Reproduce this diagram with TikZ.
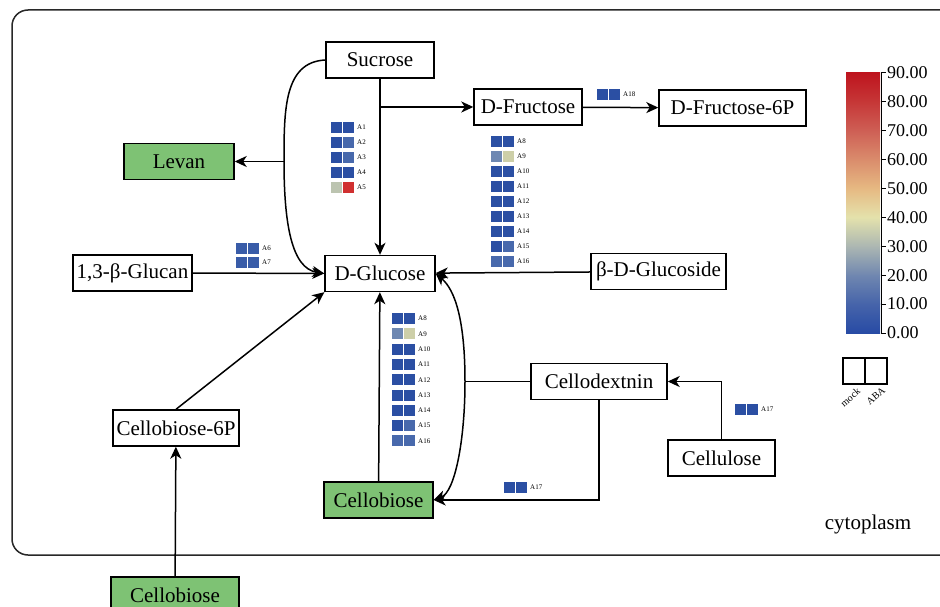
\documentclass[tikz,border=0pt]{standalone}
\usepackage{fontspec}
\setmainfont{Liberation Serif}
\usetikzlibrary{arrows.meta}

\definecolor{hmD}{RGB}{43,79,163}
\definecolor{hmM}{RGB}{72,105,172}
\definecolor{hmS}{RGB}{57,92,168}
\definecolor{hmL}{RGB}{110,136,178}
\definecolor{hmY}{RGB}{205,207,168}
\definecolor{hmG}{RGB}{188,196,176}
\definecolor{hmR}{RGB}{208,48,48}
\definecolor{leaf}{RGB}{126,194,116}
\definecolor{frame}{RGB}{40,40,40}

% one row of the heat map: x, y (top), mock colour, ABA colour, label
\newcommand{\hmrow}[5]{%
  \fill[#3] ({#1},{#2}) rectangle ++(11,11);
  \fill[#4] ({#1+12},{#2}) rectangle ++(11,11);
  \node[hmlab] (hm-#5-#1) at ({#1+26},{#2+5.5}) {#5};}

\begin{document}
\begin{tikzpicture}[x=1pt,y=-1pt,
  box/.style={draw,line width=1.4pt,minimum height=36pt,inner sep=2pt,font=\fontsize{21}{24}\selectfont},
  green/.style={box,fill=leaf},
  arr/.style={line width=1.5pt,-{Stealth[length=12pt,width=11pt,inset=3.5pt]}},
  line/.style={line width=1.5pt},
  hmlab/.style={anchor=west,inner sep=0pt,font=\fontsize{7}{8}\selectfont}]
\clip (0,0) rectangle (940,607);
\draw[frame,line width=1.5pt,rounded corners=16pt] (12,10) rectangle (980,555);

% compounds
\node[box,minimum width=108pt] (sucrose) at (380,60) {Sucrose};
\node[box,minimum width=108pt] (dfructose) at (528,107) {D-Fructose};
\node[box,minimum width=147pt] (dfructose6p) at (732.5,108) {D-Fructose-6P};
\node[green,minimum width=110pt] (levan) at (179,161.5) {Levan};
\node[box,minimum width=110pt] (dglucose) at (380,273.5) {D-Glucose};
\node[box,minimum width=119pt] (glucan) at (132.5,273) {1,3-β-Glucan};
\node[box,minimum width=135pt] (glucoside) at (658.5,271.5) {β-D-Glucoside};
\node[box,minimum width=136pt] (cellodex) at (599,381.5) {Cellodextnin};
\node[box,minimum width=126pt] (cb6p) at (176,428) {Cellobiose-6P};
\node[box,minimum width=107pt] (cellulose) at (721.5,458) {Cellulose};
\node[green,minimum width=109pt] (cellobiose) at (378.5,500) {Cellobiose};
\node[green,minimum width=128pt] (cellobioseout) at (175,595) {Cellobiose};
\node[font=\fontsize{21}{24}\selectfont] (cyto) at (868,524) {cytoplasm};

\coordinate (bend) at (284,161.5);
\coordinate (cd) at (465,381.5);

% reactions
\draw[arr] (sucrose) -- (dglucose);
\draw[arr] (sucrose.south |- dfructose.west) -- (dfructose.west);
\draw[arr] (dfructose) -- (dfructose6p);
\draw[arr] (sucrose.west) .. controls (284,62) and (284,110) .. (bend)
  .. controls (284,225) and (292,268) .. (dglucose.west);
\draw[arr] (bend) -- (levan);
\draw[arr] (glucan) -- (dglucose);
\draw[arr] (glucoside) -- (dglucose);
\draw[arr] (cb6p.north) -- (dglucose.south west);
\draw[arr] (cellobioseout) -- (cb6p);
\draw[arr] (cellobiose) -- (dglucose);
\draw[line] (cellodex.west) -- (cd);
\draw[arr] (cd) .. controls (465,320) and (455,290) .. (dglucose.east);
\draw[arr] (cd) .. controls (465,440) and (455,492) .. (cellobiose.east);
\draw[arr] (cellulose.north) |- (cellodex.east);
\draw[arr] (cellodex.south) |- (cellobiose.east);

% heat maps
\foreach \lab/\cl/\cr [count=\i] in {A1/hmD/hmD,A2/hmD/hmM,A3/hmD/hmM,A4/hmD/hmD,A5/hmG/hmR}{
  \hmrow{331}{122+(\i-1)*15}{\cl}{\cr}{\lab}}
\hmrow{236}{243}{hmS}{hmS}{A6}
\hmrow{236}{257}{hmS}{hmS}{A7}
\foreach \lab/\cl/\cr [count=\i] in {A8/hmD/hmD,A9/hmL/hmY,A10/hmD/hmD,A11/hmD/hmD,A12/hmD/hmD,A13/hmD/hmD,A14/hmD/hmD,A15/hmD/hmM,A16/hmM/hmM}{
  \hmrow{491}{136+(\i-1)*15}{\cl}{\cr}{\lab}
  \hmrow{392}{313+(\i-1)*15.3}{\cl}{\cr}{\lab}}
\hmrow{504}{482}{hmD}{hmD}{A17}
\hmrow{735}{404}{hmD}{hmD}{A17}
\hmrow{597}{89}{hmD}{hmD}{A18}

% colour scale
\definecolor{cs0}{RGB}{40,75,165}
\definecolor{cs1}{RGB}{70,100,170}
\definecolor{cs2}{RGB}{112,135,176}
\definecolor{cs3}{RGB}{172,183,178}
\definecolor{cs4}{RGB}{228,226,172}
\definecolor{cs5}{RGB}{230,185,130}
\definecolor{cs6}{RGB}{218,140,108}
\definecolor{cs7}{RGB}{206,95,85}
\definecolor{cs8}{RGB}{198,55,55}
\definecolor{cs9}{RGB}{190,20,30}
\foreach \lo [evaluate=\lo as \hi using int(\lo+1)] in {0,...,8}{
  \shade[bottom color=cs\lo,top color=cs\hi] (846,333-\lo*28.89) rectangle (880,333-\hi*28.89-0.3);}
\draw[line width=1pt] (881,73) -- (881,333);
\foreach \v [count=\i] in {0,10,...,90}{
  \draw[line width=1pt] (881,333-\v*2.889) -- (886,333-\v*2.889);
  \node[anchor=west,inner sep=0pt,font=\fontsize{18}{20}\selectfont] (tick\i) at (887,333-\v*2.889) {\v.00};}

% legend
\node[draw,line width=1.2pt,minimum width=22pt,minimum height=26pt,inner sep=0pt] (mock) at (854,371) {};
\node[draw,line width=1.2pt,minimum width=22pt,minimum height=26pt,inner sep=0pt] (aba) at (876,371) {};
\node[rotate=40,anchor=east,inner sep=0pt,font=\fontsize{10}{11}\selectfont] (mocklab) at (859,390) {mock};
\node[rotate=40,anchor=east,inner sep=0pt,font=\fontsize{10}{11}\selectfont] (abalab) at (884,389) {ABA};
\end{tikzpicture}
\end{document}
